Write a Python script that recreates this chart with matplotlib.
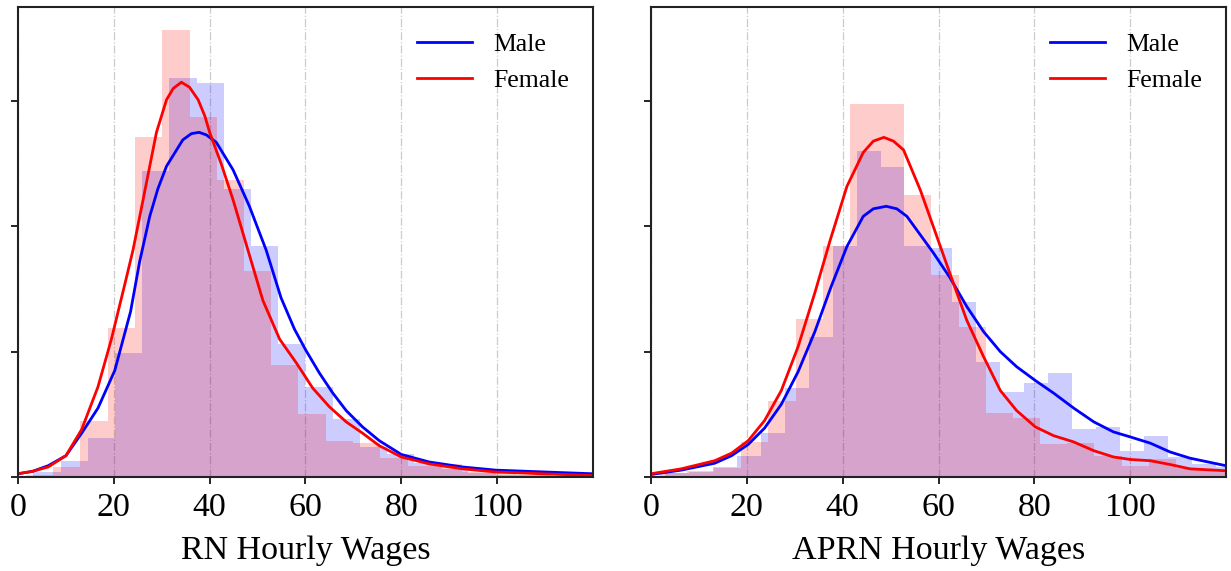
import numpy as np
import matplotlib.pyplot as plt

plt.rcParams['font.family'] = ['Liberation Serif', 'DejaVu Serif']

# ---- RN wages: histogram densities (bin edges + heights) ----
rn_male_edges = [3.2, 8.9, 14.6, 20.2, 25.9, 31.6, 37.3, 43.0, 48.6, 54.3, 60.0,
                 65.7, 71.3, 77.0, 82.7, 88.4, 94.0, 99.7, 105.4, 111.1, 116.7]
rn_male_hist = [0.0004, 0.0013, 0.0031, 0.0099, 0.0244, 0.0318, 0.0314, 0.0230,
                0.0184, 0.0106, 0.0072, 0.0046, 0.0024, 0.0018, 0.0011, 0.0006,
                0.0003, 0.0002, 0.0002, 0.0001]
rn_female_edges = [1.6, 7.3, 13.0, 18.7, 24.4, 30.1, 35.8, 41.5, 47.2, 52.8, 58.5,
                   64.2, 69.9, 75.6, 81.3, 87.0, 92.6, 98.3, 104.0, 109.7, 115.4]
rn_female_hist = [0.0002, 0.0008, 0.0045, 0.0119, 0.0271, 0.0357, 0.0287, 0.0237,
                  0.0164, 0.0089, 0.0050, 0.0029, 0.0027, 0.0015, 0.0009, 0.0010,
                  0.0004, 0.0003, 0.0002, 0.0002]

# RN density curves
rn_male_kde_x = [0, 3, 6.3, 10, 13.3, 16.7, 20.2, 23.5, 25.4, 27.5, 29.2, 31.0,
                 34.4, 36.2, 37.8, 39.3, 41.4, 44.9, 48.3, 51.8, 54.9, 57.7, 60.1,
                 62.9, 65.7, 68.5, 71.9, 75.4, 80.0, 85.8, 92.8, 99.7, 110, 120]
rn_male_kde_y = [0.00026, 0.00045, 0.0009, 0.0017, 0.0035, 0.0055, 0.0085, 0.0132,
                 0.0172, 0.0208, 0.0230, 0.0248, 0.0269, 0.0274, 0.0275, 0.0273,
                 0.0267, 0.0245, 0.0216, 0.0181, 0.0143, 0.0118, 0.0101, 0.0083,
                 0.0067, 0.0053, 0.0040, 0.0029, 0.0018, 0.0012, 0.0008, 0.00055,
                 0.0004, 0.00026]
rn_female_kde_x = [0, 3, 6.3, 10, 13.3, 16.7, 19.5, 22.5, 24.0, 26.1, 27.5, 28.9,
                   31.0, 32.4, 34.1, 35.8, 37.6, 39.0, 40.0, 42.5, 44.9, 48.0, 51.1,
                   54.6, 58.1, 61.5, 65.0, 68.5, 71.9, 75.4, 80.0, 85.8, 92.8, 99.7,
                   110, 120]
rn_female_kde_y = [0.00026, 0.00045, 0.0008, 0.0017, 0.0038, 0.0072, 0.0110, 0.0157,
                   0.0181, 0.0221, 0.0248, 0.0275, 0.0301, 0.0310, 0.0315, 0.0311,
                   0.0301, 0.0288, 0.0275, 0.0249, 0.0221, 0.0181, 0.0141, 0.0110,
                   0.0091, 0.0071, 0.0056, 0.0044, 0.0035, 0.0025, 0.0016, 0.00105,
                   0.00065, 0.0004, 0.00025, 0.00012]

# ---- APRN wages ----
aprn_male_edges = [2.9, 7.9, 12.9, 17.9, 22.9, 27.9, 32.9, 37.9, 42.9, 47.9, 52.9,
                   57.9, 62.9, 67.9, 72.9, 77.9, 82.9, 87.9, 92.9, 97.9, 102.9,
                   107.9, 112.9, 117.9, 122.9]
aprn_male_hist = [0.0003, 0.0004, 0.0008, 0.0017, 0.0035, 0.0071, 0.0112, 0.0184,
                  0.0260, 0.0247, 0.0184, 0.0183, 0.0140, 0.0092, 0.0068, 0.0075,
                  0.0083, 0.0038, 0.0040, 0.0021, 0.0033, 0.0016, 0.0010, 0.0008]
aprn_female_edges = [1.8, 7.5, 13.1, 18.8, 24.5, 30.2, 35.8, 41.5, 47.2, 52.8, 58.5,
                     64.2, 69.9, 75.5, 81.2, 86.9, 92.5, 98.2, 103.9, 109.6, 115.2,
                     120.9]
aprn_female_hist = [0.0003, 0.0005, 0.0007, 0.0028, 0.0061, 0.0126, 0.0184, 0.0298,
                    0.0298, 0.0225, 0.0161, 0.0120, 0.0051, 0.0047, 0.0026, 0.0027,
                    0.0017, 0.0009, 0.0014, 0.0007, 0.0005]

aprn_male_kde_x = [0, 6.3, 13.3, 16.8, 20.3, 23.7, 27.2, 30.7, 34.2, 37.6, 40.9,
                   44.3, 46.4, 49.1, 51.3, 53.4, 58.9, 62.4, 65.9, 69.4, 72.9, 76.3,
                   80.2, 84.0, 88.2, 92.4, 96.5, 100, 104.2, 108.3, 112.5, 120]
aprn_male_kde_y = [0.0002, 0.00055, 0.0011, 0.0017, 0.0026, 0.0039, 0.0058, 0.0084,
                   0.0116, 0.0152, 0.0184, 0.0208, 0.0214, 0.0216, 0.0214, 0.0208,
                   0.0179, 0.0159, 0.0136, 0.0116, 0.0100, 0.0088, 0.0077, 0.0067,
                   0.0055, 0.0044, 0.0036, 0.0032, 0.0027, 0.0020, 0.0015, 0.0009]
aprn_female_kde_x = [0, 6.3, 13.3, 16.8, 20.3, 23.7, 27.2, 30.7, 34.2, 37.4, 40.9,
                     44.3, 46.4, 48.6, 50.6, 52.7, 56.2, 58.9, 62.6, 65.9, 69.4, 72.9,
                     76.3, 80.2, 84.0, 88.2, 92.4, 96.5, 100, 104.2, 108.3, 112.5, 120]
aprn_female_kde_y = [0.00026, 0.00065, 0.0013, 0.0019, 0.0029, 0.0045, 0.0069,
                     0.0104, 0.0147, 0.0189, 0.0232, 0.0259, 0.0268, 0.0271, 0.0268,
                     0.0261, 0.0229, 0.0200, 0.0160, 0.0125, 0.0096, 0.0069, 0.0053,
                     0.0040, 0.0033, 0.0028, 0.0021, 0.0016, 0.0014, 0.0013, 0.0010,
                     0.00065, 0.0005]

panels = [
    ("RN Hourly Wages", rn_male_edges, rn_male_hist, rn_female_edges, rn_female_hist,
     rn_male_kde_x, rn_male_kde_y, rn_female_kde_x, rn_female_kde_y),
    ("APRN Hourly Wages", aprn_male_edges, aprn_male_hist, aprn_female_edges, aprn_female_hist,
     aprn_male_kde_x, aprn_male_kde_y, aprn_female_kde_x, aprn_female_kde_y),
]

fig = plt.figure(figsize=(12.31, 5.71), dpi=100)
ax_boxes = [[0.0146, 0.1646, 0.4671, 0.8231], [0.5288, 0.1646, 0.4672, 0.8231]]

for box, (xlabel, me, mh, fe, fh, mkx, mky, fkx, fky) in zip(ax_boxes, panels):
    ax = fig.add_axes(box)
    ax.grid(axis='x', color='#cccccc', linestyle='-.', linewidth=0.9)
    ax.set_axisbelow(True)
    ax.stairs(mh, me, fill=True, color='blue', alpha=0.2, linewidth=0)
    ax.stairs(fh, fe, fill=True, color='red', alpha=0.2, linewidth=0)
    ax.plot(mkx, mky, color='blue', linewidth=2, label='Male', solid_joinstyle='round')
    ax.plot(fkx, fky, color='red', linewidth=2, label='Female', solid_joinstyle='round')
    ax.set_xlim(0, 120)
    ax.set_ylim(0, 0.0375)
    ax.set_xticks([0, 20, 40, 60, 80, 100])
    ax.set_yticks([0, 0.01, 0.02, 0.03])
    ax.set_yticklabels([])
    ax.tick_params(axis='x', labelsize=24.5, length=5, width=1.2, pad=6)
    ax.tick_params(axis='y', length=5, width=1.2)
    for sp in ax.spines.values():
        sp.set_linewidth(1.5)
        sp.set_color('#222222')
    ax.set_xlabel(xlabel, fontsize=24.5, labelpad=9)
    ax.legend(loc='upper right', fontsize=18.5, frameon=False,
              handlelength=2.15, handletextpad=0.8, borderaxespad=0.5,
              bbox_to_anchor=(0.998, 0.993))

fig.savefig('out.png', dpi=100)
